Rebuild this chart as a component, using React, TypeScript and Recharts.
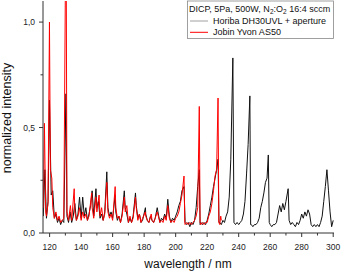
import { Line, LineChart, XAxis, YAxis } from "recharts";

// wavelength (nm), normalized intensity
const horibaSpectrum: [number, number][] = [
  [116, 0.08], [117, 0.3], [118, 0.07], [119, 0.15], [119.9, 0.63], [121, 0.18], [122, 0.2], [123, 0.07],
  [124, 0.09], [125, 0.05], [126, 0.07], [127, 0.04], [128, 0.06], [129, 0.05], [130.4, 0.66], [131, 0.08],
  [132, 0.05], [133, 0.1], [134, 0.05], [135, 0.08], [136, 0.14], [137, 0.06], [138, 0.09], [139, 0.17],
  [140, 0.07], [141, 0.17], [142, 0.08], [143, 0.12], [144, 0.06], [145, 0.09], [146, 0.13], [147, 0.2],
  [148, 0.08], [149.4, 0.21], [150, 0.12], [151, 0.15], [152, 0.07], [153, 0.09], [154, 0.06], [155, 0.1],
  [156.3, 0.29], [157, 0.12], [158, 0.08], [159, 0.1], [160, 0.07], [161.6, 0.18], [162, 0.1], [163, 0.06],
  [164, 0.08], [165, 0.05], [166, 0.09], [167.4, 0.2], [168, 0.12], [169, 0.09], [170, 0.05], [171, 0.07],
  [172, 0.05], [173, 0.08], [174.5, 0.19], [175, 0.13], [176, 0.07], [177, 0.09], [178, 0.05], [179, 0.06],
  [180.8, 0.12], [181, 0.09], [182, 0.06], [183, 0.05], [184, 0.08], [185, 0.06], [186, 0.05], [187, 0.07],
  [188.3, 0.12], [189, 0.09], [190, 0.05], [191, 0.07], [192, 0.06], [193, 0.09], [194, 0.07], [195, 0.16],
  [196, 0.08], [197, 0.05], [198, 0.07], [199, 0.06], [200, 0.08], [201, 0.1], [202, 0.13], [203, 0.15],
  [204, 0.2], [205.3, 0.22], [206, 0.05], [207, 0.04], [208, 0.05], [209, 0.03], [210, 0.05], [211, 0.04],
  [212, 0.06], [213, 0.12], [214, 0.22], [215, 0.3], [215.5, 0.04], [216, 0.05], [217, 0.04], [218, 0.05],
  [219, 0.04], [220, 0.06], [221, 0.09], [222, 0.13], [223, 0.17], [224, 0.22], [225, 0.26], [226, 0.3],
  [226.9, 0.35], [227.5, 0.05], [228, 0.05], [229, 0.04], [230, 0.06], [231, 0.05], [232, 0.08], [233, 0.1],
  [234, 0.17], [235, 0.35], [236.3, 0.83], [237, 0.05], [238, 0.04], [239, 0.05], [240, 0.04], [241, 0.05],
  [242, 0.06], [243, 0.09], [244, 0.15], [245, 0.28], [246, 0.42], [247.1, 0.65], [247.6, 0.04], [248, 0.04],
  [249, 0.03], [250, 0.04], [251, 0.04], [252, 0.05], [253, 0.07], [254, 0.12], [255, 0.15], [256, 0.19],
  [257, 0.24], [258, 0.26], [258.8, 0.37], [259.4, 0.05], [260, 0.04], [261, 0.03], [262, 0.04], [263, 0.04],
  [264, 0.05], [265, 0.09], [266, 0.13], [267, 0.1], [268, 0.14], [269, 0.11], [270, 0.15], [271.4, 0.21],
  [272, 0.06], [273, 0.04], [274, 0.05], [275, 0.04], [276, 0.03], [277, 0.05], [278, 0.04], [279, 0.06],
  [280, 0.09], [281, 0.07], [282, 0.1], [283, 0.08], [284, 0.11], [285, 0.09], [286, 0.04], [287, 0.03],
  [288, 0.04], [289, 0.03], [290, 0.04], [291, 0.03], [292, 0.05], [293, 0.08], [294, 0.15], [295, 0.22],
  [296, 0.3], [297, 0.2], [298, 0.1], [299, 0.03], [300, 0.06],
];

const jobinSpectrum: [number, number][] = [
  [116, 0.12], [116.7, 0.52], [117.5, 0.1], [118, 0.08], [119, 0.14], [119.9, 1.0], [120.5, 0.3], [121.4, 0.26],
  [122, 0.12], [123, 0.07], [124, 0.1], [125, 0.06], [126, 0.08], [127, 0.05], [128, 0.06], [129, 0.07],
  [130.4, 1.6], [131, 0.1], [132, 0.06], [133.2, 0.13], [134, 0.06], [135.6, 0.21], [136, 0.1], [137, 0.06],
  [138, 0.08], [139, 0.12], [140, 0.06], [141, 0.1], [142, 0.07], [143, 0.09], [144, 0.06], [145, 0.08],
  [146.7, 0.19], [147, 0.12], [148, 0.07], [149.4, 0.17], [150, 0.1], [151.4, 0.18], [152, 0.08], [153, 0.12],
  [154, 0.06], [155, 0.09], [156.3, 0.24], [157, 0.1], [158, 0.07], [159, 0.09], [160, 0.06], [161.6, 0.22],
  [162, 0.12], [163, 0.07], [164, 0.08], [165, 0.05], [166, 0.08], [167.4, 0.17], [168, 0.1], [169, 0.13],
  [170, 0.05], [171, 0.08], [172, 0.05], [173, 0.07], [174.5, 0.17], [175, 0.12], [176, 0.06], [177, 0.09],
  [178, 0.05], [179, 0.07], [180.8, 0.1], [181, 0.08], [182, 0.06], [183, 0.05], [184.5, 0.09], [185, 0.06],
  [186, 0.05], [187, 0.07], [188.3, 0.1], [189, 0.08], [190, 0.05], [191, 0.06], [192, 0.05], [193, 0.08],
  [194, 0.06], [195, 0.13], [196, 0.07], [197, 0.05], [198, 0.06], [199, 0.05], [200, 0.07], [201, 0.08],
  [202, 0.1], [203, 0.14], [204, 0.18], [205.3, 0.27], [205.8, 0.05], [206, 0.04], [207, 0.05], [208, 0.04],
  [209, 0.05], [210, 0.04], [211, 0.05], [212, 0.06], [213, 0.08], [214, 0.12], [215, 0.6], [215.5, 0.05],
  [216, 0.04], [217, 0.05], [218, 0.04], [219, 0.05], [220, 0.05], [221, 0.08], [222, 0.1], [223, 0.14],
  [224, 0.2], [225, 0.27], [226, 0.3], [226.9, 0.64], [227.4, 0.05], [228, 0.04], [228.6, 0.08], [229, 0.06],
];

const xTicks = [120, 130, 140, 150, 160, 170, 180, 190, 200, 210, 220, 230, 240, 250, 260, 270, 280, 290, 300];
const yTicks = [0, 0.25, 0.5, 0.75, 1.0];

const horibaData = horibaSpectrum.map(([wl, v]) => ({ wl, v }));
const jobinData = jobinSpectrum.map(([wl, v]) => ({ wl, v }));

const font = "'Liberation Sans', Arial, sans-serif";
const axisColor = "#333";

const isMajorX = (v: number) => v % 20 === 0;
const isMajorY = (v: number) => Math.abs(v * 2 - Math.round(v * 2)) < 1e-6;

function BottomTick({ x, y, payload }: any) {
  const major = isMajorX(payload.value);
  return (
    <g>
      <line x1={x} x2={x} y1={y} y2={y + (major ? 4 : 2.5)} stroke={axisColor} />
      {major && (
        <text x={x} y={y + 16.5} textAnchor="middle" fontSize={8.5} fontFamily={font} fill="#222">
          {payload.value}
        </text>
      )}
    </g>
  );
}

function TopTick({ x, y, payload }: any) {
  const major = isMajorX(payload.value);
  return <line x1={x} x2={x} y1={y} y2={y + (major ? 4 : 2.5)} stroke={axisColor} />;
}

function LeftTick({ x, y, payload }: any) {
  const major = isMajorY(payload.value);
  return (
    <g>
      <line x1={x - (major ? 4 : 2.5)} x2={x} y1={y} y2={y} stroke={axisColor} />
      {major && (
        <text x={x - 8} y={y + 3} textAnchor="end" fontSize={8.5} fontFamily={font} fill="#222">
          {payload.value.toFixed(1).replace(".", ",")}
        </text>
      )}
    </g>
  );
}

function RightTick({ x, y, payload }: any) {
  const major = isMajorY(payload.value);
  return <line x1={x - (major ? 4 : 2.5)} x2={x} y1={y} y2={y} stroke={axisColor} />;
}

export default function App() {
  return (
    <div style={{ position: "absolute", left: 0, top: 0, width: 342, height: 271, background: "#fff" }}>
      <LineChart width={342} height={271} margin={{ top: 1, right: 8, bottom: 0, left: 0 }}>
        <XAxis
          xAxisId="b"
          type="number"
          dataKey="wl"
          domain={[115.8, 300.5]}
          allowDataOverflow
          ticks={xTicks}
          interval={0}
          height={38}
          tickSize={0}
          tickMargin={0}
          tickLine={false}
          tick={BottomTick}
          stroke={axisColor}
        />
        <XAxis
          xAxisId="t"
          orientation="top"
          type="number"
          dataKey="wl"
          domain={[115.8, 300.5]}
          allowDataOverflow
          ticks={xTicks}
          interval={0}
          height={0}
          tickSize={0}
          tickMargin={0}
          tickLine={false}
          tick={TopTick}
          stroke={axisColor}
        />
        <YAxis
          yAxisId="l"
          domain={[0, 1.1]}
          allowDataOverflow
          ticks={yTicks}
          interval={0}
          width={43}
          tickSize={0}
          tickMargin={0}
          tickLine={false}
          tick={LeftTick}
          stroke={axisColor}
        />
        <YAxis
          yAxisId="r"
          orientation="right"
          domain={[0, 1.1]}
          allowDataOverflow
          ticks={yTicks}
          interval={0}
          width={0}
          tickSize={0}
          tickMargin={0}
          tickLine={false}
          tick={RightTick}
          stroke={axisColor}
        />
        <Line
          xAxisId="b"
          yAxisId="l"
          data={horibaData}
          dataKey="v"
          type="linear"
          stroke="#111"
          strokeWidth={1}
          dot={false}
          isAnimationActive={false}
        />
        <Line
          xAxisId="b"
          yAxisId="l"
          data={jobinData}
          dataKey="v"
          type="linear"
          stroke="#ff0000"
          strokeWidth={1}
          dot={false}
          isAnimationActive={false}
        />
      </LineChart>
      <svg
        width={342}
        height={271}
        style={{ position: "absolute", left: 0, top: 0, pointerEvents: "none" }}
        fontFamily={font}
      >
        <rect x={187.5} y={1} width={146} height={37.5} fill="#fff" stroke="#888" strokeWidth={0.8} />
        <text x={189} y={11.5} fontSize={9} fill="#111">
          DICP, 5Pa, 500W, N<tspan fontSize={6.5} dy={2}>2</tspan>
          <tspan dy={-2}>:O</tspan>
          <tspan fontSize={6.5} dy={2}>2</tspan>
          <tspan dy={-2}> 16:4 sccm</tspan>
        </text>
        <line x1={190} x2={208} y1={21} y2={21} stroke="#888" strokeWidth={0.8} />
        <text x={213} y={24} fontSize={9} fill="#111">
          Horiba DH30UVL +  aperture
        </text>
        <line x1={190} x2={208} y1={32.3} y2={32.3} stroke="#ff0000" strokeWidth={1} />
        <text x={213} y={35} fontSize={9} fill="#111">
          Jobin Yvon AS50
        </text>
        <text x={188} y={268} textAnchor="middle" fontSize={12} fill="#111">
          wavelength / nm
        </text>
        <text
          x={0}
          y={0}
          textAnchor="middle"
          fontSize={12.5}
          fill="#111"
          transform="translate(10.5,118) rotate(-90)"
        >
          normalized intensity
        </text>
      </svg>
    </div>
  );
}
